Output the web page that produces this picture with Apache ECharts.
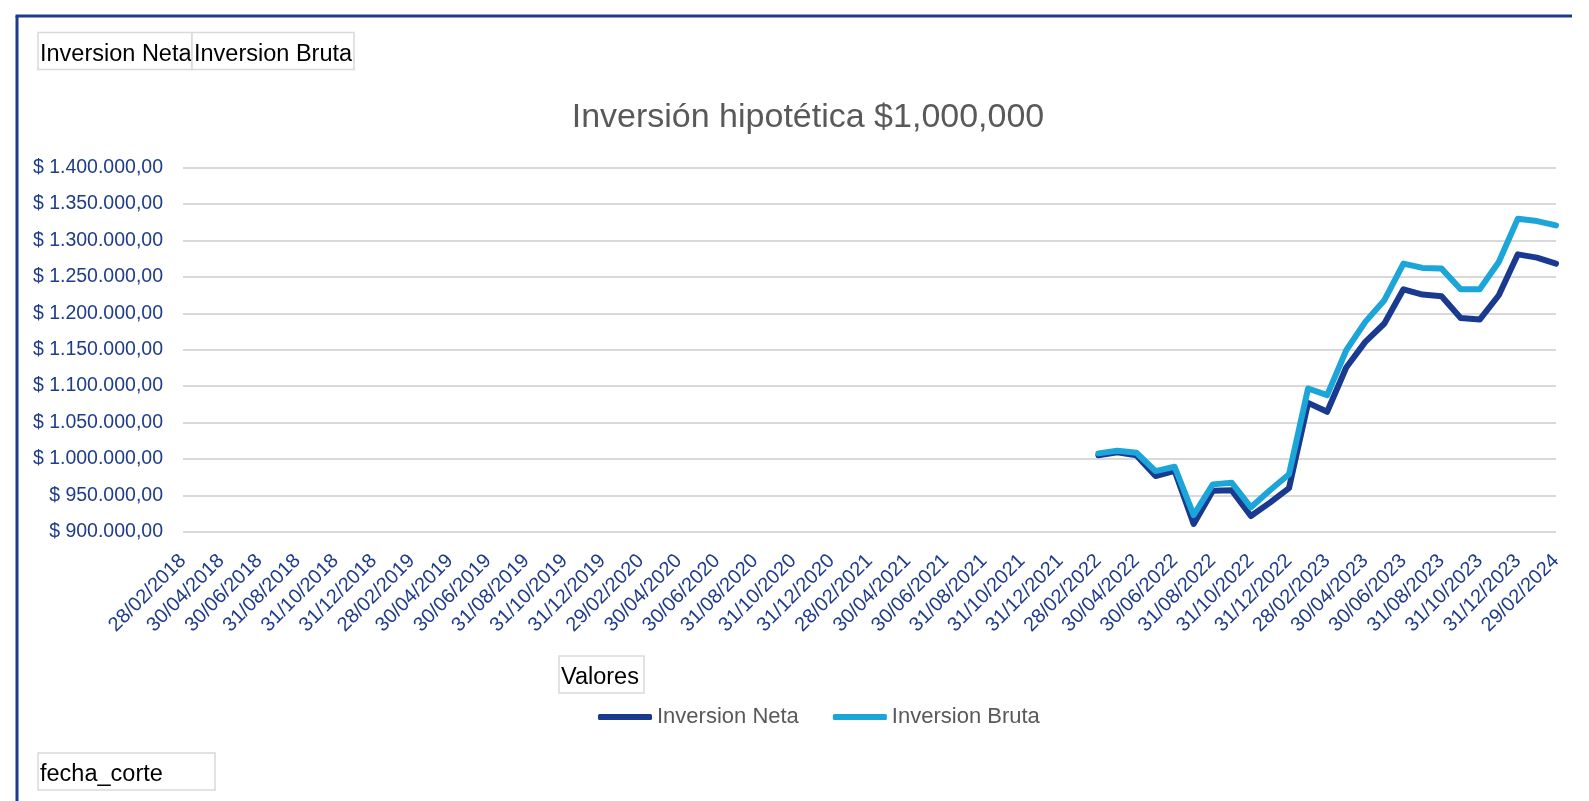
<!DOCTYPE html>
<html>
<head>
<meta charset="utf-8">
<title>Inversión hipotética</title>
<script src="https://cdn.jsdelivr.net/npm/echarts@6/dist/echarts.min.js"></script>
<style>
	html, body { margin: 0; padding: 0; background: #fff; }
	#chart { width: 1589px; height: 801px; }
</style>
</head>
<body>
<div id="chart"></div>
<script>
// fechas de corte (eje x), mensual feb-2018 .. feb-2024
var fechas = [
	'28/02/2018', '31/03/2018', '30/04/2018', '31/05/2018', '30/06/2018', '31/07/2018',
	'31/08/2018', '30/09/2018', '31/10/2018', '30/11/2018', '31/12/2018', '31/01/2019',
	'28/02/2019', '31/03/2019', '30/04/2019', '31/05/2019', '30/06/2019', '31/07/2019',
	'31/08/2019', '30/09/2019', '31/10/2019', '30/11/2019', '31/12/2019', '31/01/2020',
	'29/02/2020', '31/03/2020', '30/04/2020', '31/05/2020', '30/06/2020', '31/07/2020',
	'31/08/2020', '30/09/2020', '31/10/2020', '30/11/2020', '31/12/2020', '31/01/2021',
	'28/02/2021', '31/03/2021', '30/04/2021', '31/05/2021', '30/06/2021', '31/07/2021',
	'31/08/2021', '30/09/2021', '31/10/2021', '30/11/2021', '31/12/2021', '31/01/2022',
	'28/02/2022', '31/03/2022', '30/04/2022', '31/05/2022', '30/06/2022', '31/07/2022',
	'31/08/2022', '30/09/2022', '31/10/2022', '30/11/2022', '31/12/2022', '31/01/2023',
	'28/02/2023', '31/03/2023', '30/04/2023', '31/05/2023', '30/06/2023', '31/07/2023',
	'31/08/2023', '30/09/2023', '31/10/2023', '30/11/2023', '31/12/2023', '31/01/2024',
	'29/02/2024'
];

// los valores solo existen desde 28/02/2022
var inicioDatos = '28/02/2022';

var inversionNeta = [
	1005000, 1009000, 1004800, 976400, 983700, 910600, 956300, 956800, 921500,
	940000, 960000, 1077000, 1064700, 1125600, 1160700, 1186000, 1233000, 1225700,
	1223400, 1193600, 1191400, 1224800, 1281000, 1276500, 1268300
];

var inversionBruta = [
	1007600, 1011100, 1008400, 983300, 989200, 922900, 965000, 967200, 933500,
	957000, 979000, 1096700, 1087600, 1149300, 1188200, 1218000, 1268300, 1262300,
	1261400, 1233000, 1233000, 1270500, 1330000, 1326700, 1320800
];

var yMin = 900000, yMax = 1400000, yPaso = 50000;

var azulOscuro = '#1a3a8f';
var azulClaro = '#1ba5d8';
var azulTexto = '#1f3c8c';

// rellena con null los meses sin dato
function serie(valores) {
	var ini = fechas.indexOf(inicioDatos);
	return fechas.map(function (f, i) {
		return i < ini ? null : valores[i - ini];
	});
}

function moneda(v) {
	var s = Math.round(v).toString().replace(/\B(?=(\d{3})+(?!\d))/g, '.');
	return '$ ' + s + ',00';
}

// botones de campo de la tabla dinamica
function boton(x, y, w, h, texto) {
	return {
		type: 'group',
		x: x,
		y: y,
		children: [
			{ type: 'rect', shape: { x: 0, y: 0, width: w, height: h },
				style: { fill: '#fff', stroke: '#d9d9d9', lineWidth: 1.5 } },
			{ type: 'text', x: 2, y: h / 2 + 3.5,
				style: { text: texto, fill: '#000', font: '23.5px "Liberation Sans"', verticalAlign: 'middle' } }
		]
	};
}

var myChart = echarts.init(document.getElementById('chart'));

var option = {
	backgroundColor: '#fff',
	animation: false,
	textStyle: { fontFamily: '"Liberation Sans", Arial, sans-serif' },
	grid: { left: 183, right: 33, top: 167.7, bottom: 269.3, containLabel: false },
	legend: {
		left: 593,
		top: 699,
		itemWidth: 54,
		itemHeight: 6,
		itemGap: 34,
		icon: 'roundRect',
		textStyle: { color: '#595959', fontSize: 22, lineHeight: 26 },
		data: ['Inversion Neta', 'Inversion Bruta']
	},
	xAxis: {
		type: 'category',
		boundaryGap: false,
		data: fechas,
		axisLine: { show: false },
		axisTick: { show: false },
		axisLabel: { interval: 1, rotate: 45, margin: 26, color: azulTexto, fontSize: 20 }
	},
	yAxis: {
		type: 'value',
		min: yMin,
		max: yMax,
		interval: yPaso,
		axisLine: { show: false },
		axisTick: { show: false },
		axisLabel: { margin: 20, color: azulTexto, fontSize: 19.5, formatter: moneda },
		splitLine: { lineStyle: { color: '#d9d9d9', width: 2 } }
	},
	series: [
		{
			name: 'Inversion Neta',
			type: 'line',
			data: serie(inversionNeta),
			showSymbol: false,
			symbol: 'none',
			color: azulOscuro,
			lineStyle: { width: 6, cap: 'round', join: 'round' }
		},
		{
			name: 'Inversion Bruta',
			type: 'line',
			data: serie(inversionBruta),
			showSymbol: false,
			symbol: 'none',
			color: azulClaro,
			lineStyle: { width: 6, cap: 'round', join: 'round' }
		}
	],
	graphic: [
		// marco
		{ type: 'line', shape: { x1: 17, y1: 16, x2: 17, y2: 801 }, style: { stroke: '#1f3c8c', lineWidth: 3 } },
		{ type: 'line', shape: { x1: 15.5, y1: 16, x2: 1572, y2: 16 }, style: { stroke: '#1f3c8c', lineWidth: 3 } },
		{ type: 'text', x: 808, y: 118,
			style: { text: 'Inversión hipotética $1,000,000', fill: '#595959', font: '34px "Liberation Sans"',
				textAlign: 'center', verticalAlign: 'middle' } },
		boton(38, 32.5, 154, 37, 'Inversion Neta'),
		boton(192, 32.5, 162, 37, 'Inversion Bruta'),
		boton(559, 656, 85, 37, 'Valores'),
		boton(38, 753, 177, 37, 'fecha_corte')
	]
};

myChart.setOption(option);
</script>
</body>
</html>
